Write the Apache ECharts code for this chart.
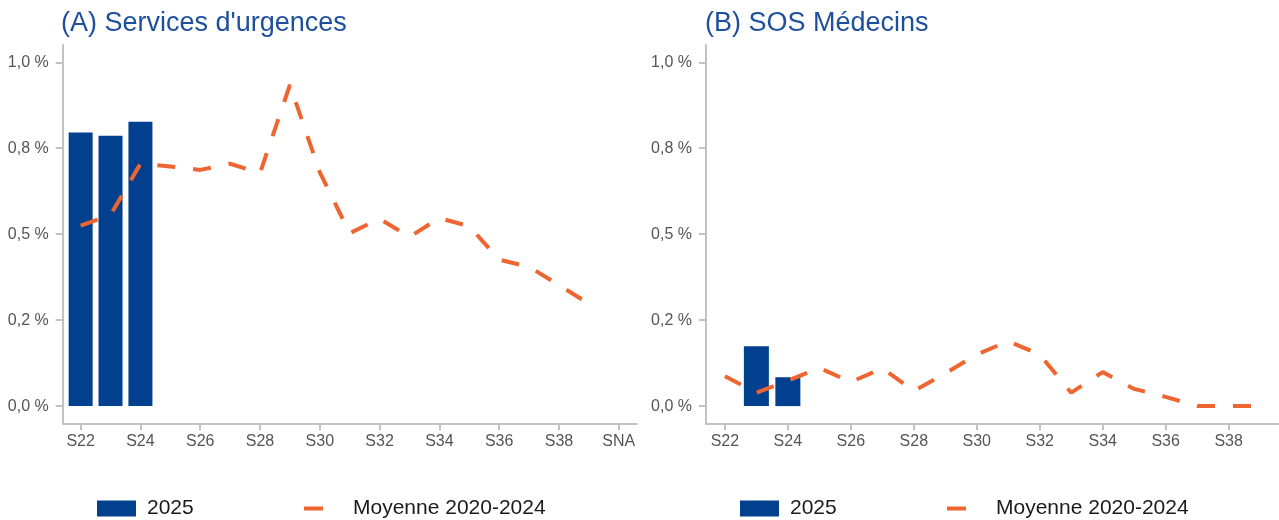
<!DOCTYPE html>
<html>
<head>
<meta charset="utf-8">
<script src="https://cdn.jsdelivr.net/npm/echarts@6/dist/echarts.min.js"></script>
<style>
  html, body { margin: 0; padding: 0; background: #fff; }
  #chart { width: 1279px; height: 520px; }
</style>
</head>
<body>
<div id="chart"></div>
<script>
// semaines
const weeks = ['S22', 'S23', 'S24', 'S25', 'S26', 'S27', 'S28', 'S29', 'S30',
  'S31', 'S32', 'S33', 'S34', 'S35', 'S36', 'S37', 'S38', 'S39']
const weeksUrg = weeks.concat(['SNA'])

// (A) services d'urgences
const urg2025 = [0.796, 0.786, 0.827]
const urgMoy = [0.525, 0.556, 0.705, 0.697, 0.687, 0.705, 0.678, 0.934, 0.68,
  0.503, 0.545, 0.492, 0.547, 0.523, 0.426, 0.405, 0.352, 0.298]

// (B) SOS Médecins
const sos2025 = [null, 0.174, 0.084]
const sosMoy = [0.087, 0.039, 0.074, 0.111, 0.07, 0.11, 0.044, 0.095, 0.15,
  0.189, 0.15, 0.039, 0.099, 0.05, 0.027, 0, 0, 0]

// graduations
const yTicks = [0, 0.25, 0.5, 0.75, 1]
const yTickLabels = ['0,0 %', '0,2 %', '0,5 %', '0,8 %', '1,0 %']

const FONT = "'Liberation Sans', Arial, sans-serif"
const BLUE = '#00408f'
const ORANGE = '#ef6530'
const AXIS = '#c2c2c2'

const pairs = (arr) => arr.map((v, i) => [i, v])
const evenIdx = (n) => Array.from({ length: n }, (_, i) => i).filter(i => i % 2 === 0)

const xAxisFor = (idx, cats) => ({
  type: 'value',
  gridIndex: idx,
  min: -0.6,
  max: cats.length - 1 + 0.6,
  splitLine: { show: false },
  axisLine: { show: true, onZero: false, lineStyle: { color: AXIS, width: 2 } },
  axisTick: { show: true, length: 7, lineStyle: { color: AXIS, width: 2 }, customValues: evenIdx(cats.length) },
  axisLabel: {
    customValues: evenIdx(cats.length),
    formatter: (v) => cats[Math.round(v)] || '',
    color: '#555', fontSize: 16, fontFamily: FONT, margin: 10
  }
})

const yAxisFor = (idx) => ({
  type: 'value',
  gridIndex: idx,
  min: -0.05,
  max: 1.05,
  splitLine: { show: false },
  axisLine: { show: true, onZero: false, lineStyle: { color: AXIS, width: 2 } },
  axisTick: { show: true, length: 7, lineStyle: { color: AXIS, width: 2 }, customValues: yTicks },
  axisLabel: {
    customValues: yTicks,
    formatter: (v) => yTickLabels[yTicks.findIndex(t => Math.abs(t - v) < 1e-9)] || '',
    color: '#555', fontSize: 16, fontFamily: FONT, margin: 14
  }
})

// légendes : padding 0 pour placer au pixel
const legendBar = (left) => ({
  left: left, top: 498, padding: 0, data: ['2025'], icon: 'rect',
  itemWidth: 39, itemHeight: 16, selectedMode: false,
  textStyle: { fontSize: 21, fontFamily: FONT, color: '#1a1a1a', padding: [0, 0, 0, 6] }
})
const legendLine = (left) => ({
  left: left, top: 498, padding: 0, data: ['Moyenne 2020-2024'], icon: 'rect',
  itemWidth: 19, itemHeight: 4, selectedMode: false,
  textStyle: { fontSize: 21, fontFamily: FONT, color: '#1a1a1a', padding: [0, 0, 0, 25] }
})

const chart = echarts.init(document.getElementById('chart'))
chart.setOption({
  animation: false,
  title: [
    { text: "(A) Services d'urgences", left: 61, top: 10, padding: 0,
      textStyle: { fontSize: 27, fontWeight: 'normal', fontFamily: FONT, color: '#1d4f9c' } },
    { text: '(B) SOS Médecins', left: 705, top: 10, padding: 0,
      textStyle: { fontSize: 27, fontWeight: 'normal', fontFamily: FONT, color: '#1d4f9c' } }
  ],
  legend: [legendBar(97), legendLine(304), legendBar(740), legendLine(947)],
  grid: [
    { left: 62.7, top: 45.1, width: 574, height: 378.2 },
    { left: 706, top: 45.1, width: 573, height: 378.2 }
  ],
  xAxis: [xAxisFor(0, weeksUrg), xAxisFor(1, weeks)],
  yAxis: [yAxisFor(0), yAxisFor(1)],
  series: [
    { name: '2025', type: 'bar', xAxisIndex: 0, yAxisIndex: 0, data: pairs(urg2025),
      barWidth: 24, color: BLUE },
    { name: 'Moyenne 2020-2024', type: 'line', xAxisIndex: 0, yAxisIndex: 0, data: pairs(urgMoy),
      symbol: 'none', color: ORANGE, lineStyle: { width: 4, type: [18, 18], cap: 'butt' } },
    { name: '2025', type: 'bar', xAxisIndex: 1, yAxisIndex: 1, data: pairs(sos2025),
      barWidth: 25, color: BLUE },
    { name: 'Moyenne 2020-2024', type: 'line', xAxisIndex: 1, yAxisIndex: 1, data: pairs(sosMoy),
      symbol: 'none', color: ORANGE, lineStyle: { width: 4, type: [18, 18], cap: 'butt' } }
  ]
})
</script>
</body>
</html>
